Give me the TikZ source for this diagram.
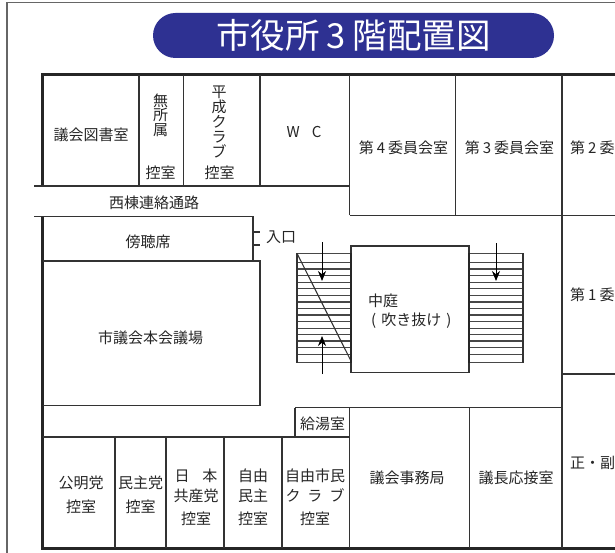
\documentclass[tikz,border=0pt]{standalone}
\usepackage{fontspec}
\setmainfont{Noto Sans CJK JP}
\usetikzlibrary{arrows.meta}
\tikzset{
 wall/.style={line width=1.1pt,draw=black!80},
 thick wall/.style={line width=3pt,draw=black!85},
 mid wall/.style={line width=2pt,draw=black!85},
 frame line/.style={line width=1.2pt,draw=black!60},
 hatch/.style={line width=1.2pt,draw=black!72},
 lbl/.style={font=\fontsize{15}{18}\selectfont,text=black!85,inner sep=0pt,align=center},
 arr/.style={line width=0.8pt,draw=black,-{Stealth[length=10pt,width=8pt]}}
}
\begin{document}
\begin{tikzpicture}[x=1pt,y=-1pt]
\useasboundingbox (0,0) rectangle (615,553);
\fill[white] (0,0) rectangle (615,553);
% page frame
\draw[frame line] (7,553) -- (7,2.5) -- (615,2.5);
% title
\node (title) [fill={rgb,255:red,46;green,49;blue,146},rounded corners=22.5pt,minimum width=401pt,minimum height=45pt,inner sep=0pt,text=white,font=\fontsize{34.5}{38}\selectfont] at (353.5,35.5) {市役所\hspace{7pt}3\hspace{7pt}階配置図};
% outer walls
\draw[thick wall] (615,75) -- (42.5,75) -- (42.5,186);
\draw[thick wall] (42,217) -- (42,548) -- (615,548);
% top rooms
\draw[wall] (34,186) -- (349.7,186);
\foreach \x in {139,183.5,260} \draw[wall] (\x,75) -- (\x,186);
\draw[wall] (349.7,75) -- (349.7,215.5);
\draw[wall] (455.7,75) -- (455.7,215.5);
\draw[wall] (349.7,215.5) -- (615,215.5);
\draw[wall] (562,75) -- (562,548);
\draw[wall] (562,374) -- (615,374);
% gallery and hall
\draw[wall] (34,216.5) -- (253,216.5) -- (253,261);
\draw[wall] (43,261) -- (260,261) -- (260,405.5) -- (43,405.5);
\draw[wall] (253,232) -- (260,232) (253,245) -- (260,245);
% stairs
\foreach \v in {253.3,262.3,269,275.7,282.3,288.7,295.3,302,308.3,315,321.7,328.3,334.3,341,347.7,354.3,362.7} {
  \draw[hatch] (297,\v) -- (351,\v);
  \draw[hatch] (469,\v) -- (523,\v);
}
\draw[wall] (297,253.3) -- (297,362.7);
\draw[wall] (523,253.3) -- (523,362.7);
\draw[wall] (297,253.3) -- (351,361);
\draw[wall] (351,246) rectangle (469,372.5);
\draw[mid wall] (351,253.3) -- (351,362.7);
\draw[mid wall] (469,253.3) -- (469,362.7);
\draw[arr] (322,242) -- (322,281);
\draw[arr] (322,374) -- (322,336);
\draw[arr] (496,243) -- (496,281);
% bottom rooms
\draw[wall] (295,407.5) -- (562,407.5);
\draw[wall] (295,407.5) -- (295,437);
\draw[wall] (43,437) -- (349.7,437);
\draw[wall] (349.7,407.5) -- (349.7,548);
\draw[wall] (469.7,407.5) -- (469.7,548);
\foreach \x in {115,166,224,282} \draw[wall] (\x,437) -- (\x,548);
% labels
\node (r1) [lbl] at (91,135) {議会図書室};
\node (r2) [lbl,font=\fontsize{15}{14.5}\selectfont] at (160.5,115) {無\\所\\属};
\node (r2b) [lbl] at (160.5,173) {控室};
\node (r3) [lbl,font=\fontsize{15}{15}\selectfont] at (219,121.5) {平\\成\\ク\\ラ\\ブ};
\node (r3b) [lbl] at (219.5,173) {控室};
\node (wc) [lbl] at (304,132) {W\hspace{12pt}C};
\node (r4) [lbl] at (403.5,148) {第\hspace{3pt}4\hspace{3pt}委員会室};
\node (r5) [lbl] at (509.5,148) {第\hspace{3pt}3\hspace{3pt}委員会室};
\node (r6) [lbl,anchor=west] at (570,148) {第\hspace{3pt}2\hspace{3pt}委};
\node (r7) [lbl] at (154,203) {西棟連絡通路};
\node (r8) [lbl] at (148,242) {傍聴席};
\node (r9) [lbl] at (281,237.5) {入口};
\node (r10) [lbl] at (150.5,338) {市議会本会議場};
\node (r11) [lbl,anchor=west] at (368,301) {中庭};
\node (r12) [lbl,anchor=west] at (371,321) {(\hspace{5pt}吹き抜け\hspace{5pt})};
\node (r13) [lbl,anchor=west] at (570,295) {第\hspace{3pt}1\hspace{3pt}委};
\node (r14) [lbl,anchor=west] at (570,463) {正・副};
\node (r15) [lbl] at (322.5,424) {給湯室};
\node (r16) [lbl] at (81,495) {公明党\\[6pt]控室};
\node (r17) [lbl] at (140.5,495) {民主党\\[6pt]控室};
\node (r18) [lbl] at (196,497) {日\hspace{13pt}本\\[2pt]共産党\\[5pt]控室};
\node (r19) [lbl] at (253,497) {自由\\[2pt]民主\\[5pt]控室};
\node (r20) [lbl] at (315,497) {自由市民\\[2pt]ク\hspace{7pt}ラ\hspace{7pt}ブ\\[5pt]控室};
\node (r21) [lbl] at (407,478) {議会事務局};
\node (r22) [lbl] at (516,478) {議長応接室};
\end{tikzpicture}
\end{document}
